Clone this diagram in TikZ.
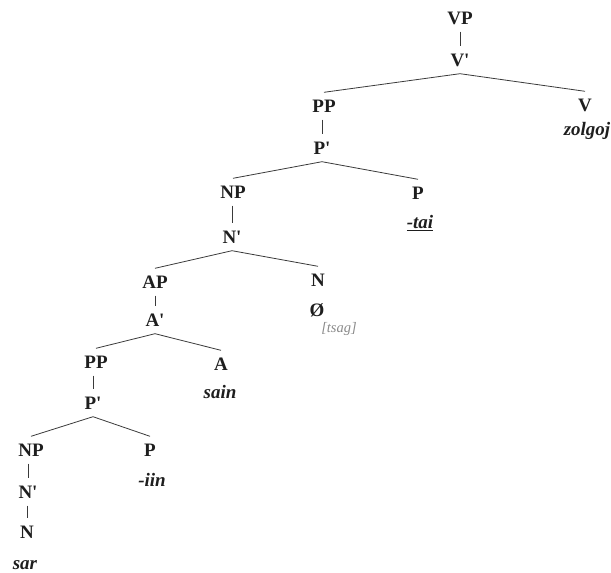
\documentclass[tikz,border=0pt]{standalone}
\usepackage{fontspec}
\setmainfont{Liberation Serif}
\definecolor{ink}{HTML}{1E1E1E}
\definecolor{edge}{HTML}{3A3A3A}
\definecolor{gloss}{HTML}{8A8A8A}
\tikzset{
  lab/.style={font=\fontsize{19}{20}\selectfont\bfseries, text=ink, inner sep=7pt, text height=13pt, text depth=0pt, anchor=center},
  word/.style={font=\fontsize{19}{20}\selectfont\bfseries\itshape, text=ink, inner sep=0pt, anchor=center},
  glossw/.style={font=\fontsize{14.5}{15}\selectfont\itshape, text=gloss, inner sep=0pt, anchor=center},
  br/.style={draw=edge, line width=0.8pt}
}
\begin{document}
\begin{tikzpicture}[x=1pt,y=-1pt]
\useasboundingbox (0,0) rectangle (611,573);
\node[lab] (VP) at (460,18) {VP};
\node[lab] (Vb) at (460,60) {V\textquotesingle};
\node[lab] (V) at (585,105) {V};
\node[word] (zolgoj) at (587,131) {zolgoj};
\node[lab] (PP1) at (324,106) {PP};
\node[lab] (Pb1) at (322,148) {P\textquotesingle};
\node[lab] (P1) at (418,193) {P};
\node[word] (tai) at (420,223) {\underline{-tai}};
\node[lab] (NP1) at (233,192) {NP};
\node[lab] (Nb1) at (232,237) {N\textquotesingle};
\node[lab] (N1) at (318,280) {N};
\node[lab] (null) at (317,310) {Ø};
\node[glossw] (tsag) at (339,329) {[tsag]};
\node[lab] (AP) at (155,282) {AP};
\node[lab] (Ab) at (155,320) {A\textquotesingle};
\node[lab] (A) at (221,364) {A};
\node[word] (sain) at (220,392) {sain};
\node[lab] (PP2) at (96,362) {PP};
\node[lab] (Pb2) at (93,403) {P\textquotesingle};
\node[lab] (P2) at (150,450) {P};
\node[word] (iin) at (152,480) {-iin};
\node[lab] (NP2) at (31,450) {NP};
\node[lab] (Nb2) at (28,492) {N\textquotesingle};
\node[lab] (N2) at (27,532) {N};
\node[word] (sar) at (25,565) {sar};
\draw[br] (VP.south) -- (Vb.north);
\draw[br] (Vb.south) -- (PP1.north);
\draw[br] (Vb.south) -- (V.north);
\draw[br] (PP1.south -| Pb1.center) -- (Pb1.north);
\draw[br] (Pb1.south) -- (NP1.north);
\draw[br] (Pb1.south) -- (P1.north);
\draw[br] (NP1.south -| Nb1.center) -- (Nb1.north);
\draw[br] (Nb1.south) -- (AP.north);
\draw[br] (Nb1.south) -- (N1.north);
\draw[br] (AP.south) -- (Ab.north);
\draw[br] (Ab.south) -- (PP2.north);
\draw[br] (Ab.south) -- (A.north);
\draw[br] (PP2.south -| Pb2.center) -- (Pb2.north);
\draw[br] (Pb2.south) -- (NP2.north);
\draw[br] (Pb2.south) -- (P2.north);
\draw[br] (NP2.south -| Nb2.center) -- (Nb2.north);
\draw[br] (Nb2.south -| N2.center) -- (N2.north);
\end{tikzpicture}
\end{document}
